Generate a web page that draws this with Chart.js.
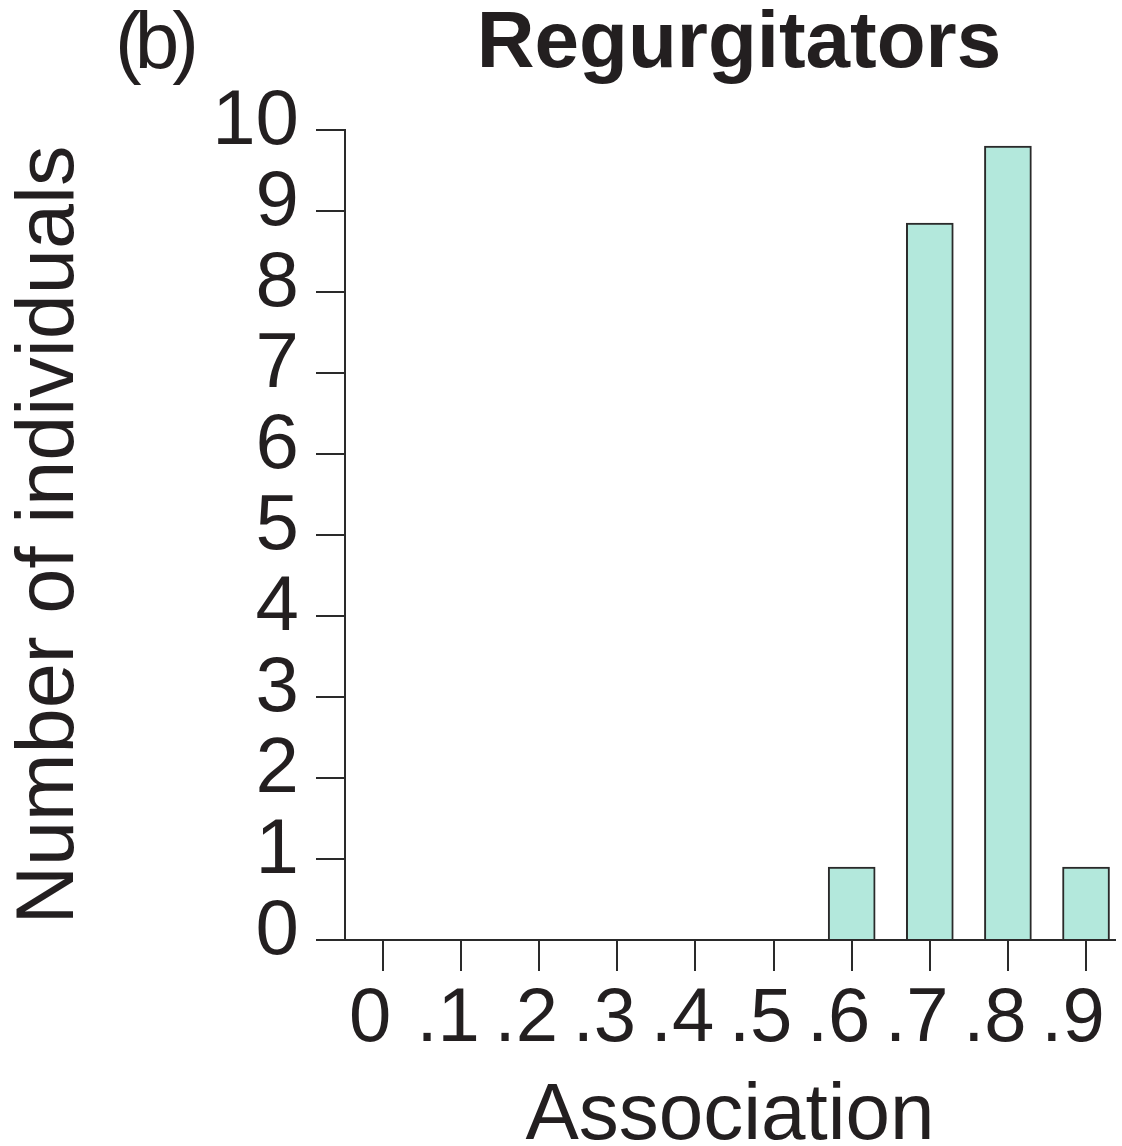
<!DOCTYPE html>
<html>
<head>
<meta charset="utf-8">
<script src="https://cdn.jsdelivr.net/npm/chart.js@4/dist/chart.umd.min.js"></script>
<style>
  html, body { margin: 0; padding: 0; background: #ffffff; }
  #wrap { width: 1122px; height: 1146px; }
</style>
</head>
<body>
<div id="wrap"><canvas id="c" width="1122" height="1146"></canvas></div>
<script>
// ---- data ----
const categories = [0, 0.1, 0.2, 0.3, 0.4, 0.5, 0.6, 0.7, 0.8, 0.9];
const tickLabels = ["0", ".1", ".2", ".3", ".4", ".5", ".6", ".7", ".8", ".9"];
const counts = [0, 0, 0, 0, 0, 0, 0.9, 8.85, 9.8, 0.9];
const yTickValues = [0, 1, 2, 3, 4, 5, 6, 7, 8, 9, 10];
const panelLabel = "(b)";
const chartTitle = "Regurgitators";
const xTitle = "Association";
const yTitle = "Number of individuals";

const FONT = '"Liberation Sans", Arial, Helvetica, sans-serif';
const TEXT = '#231f20';
const LINE = '#2a2a2a';

const headerPlugin = {
  id: 'header',
  afterDraw(chart) {
    const ctx = chart.ctx;
    ctx.save();
    ctx.fillStyle = TEXT;
    ctx.textBaseline = 'alphabetic';
    // panel label (tightly spaced in the reference)
    ctx.save();
    ctx.font = '80px ' + FONT;
    ctx.textAlign = 'left';
    if ('letterSpacing' in ctx) ctx.letterSpacing = '-7px';
    ctx.fillText(panelLabel, 115, 68);
    ctx.restore();
    ctx.font = 'bold 80px ' + FONT;
    ctx.textAlign = 'center';
    ctx.fillText(chartTitle, 739, 67);
    ctx.restore();
  }
};

new Chart(document.getElementById('c'), {
  type: 'bar',
  data: {
    datasets: [{
      data: categories.map((c, i) => ({ x: c, y: counts[i] })),
      backgroundColor: '#b3e8dc',
      borderColor: LINE,
      borderWidth: 2,
      borderSkipped: 'start',
      barThickness: 47
    }]
  },
  options: {
    responsive: false,
    animation: false,
    layout: { padding: { top: 130, left: 0, right: 7, bottom: 0 } },
    plugins: { legend: { display: false }, title: { display: false }, tooltip: { enabled: false } },
    scales: {
      x: {
        type: 'linear',
        min: -0.0487,
        max: 0.9371,
        offset: false,
        afterBuildTicks: (scale) => { scale.ticks = categories.map(v => ({ value: v })); },
        afterFit: (scale) => { scale.height = 206; scale.paddingLeft = 0; scale.paddingRight = 0; },
        ticks: {
          autoSkip: false,
          maxRotation: 0,
          minRotation: 0,
          padding: 3,
          labelOffset: -13,
          color: TEXT,
          font: { family: FONT, size: 76 },
          callback: (value, index) => tickLabels[index]
        },
        grid: { offset: false, drawOnChartArea: false, drawTicks: true, tickLength: 31, color: LINE, lineWidth: 2 },
        border: { display: true, color: LINE, width: 2 },
        title: {
          display: true, text: xTitle, color: TEXT,
          font: { family: FONT, size: 80, lineHeight: 0.8 },
          padding: { top: 0, bottom: -3 }
        }
      },
      y: {
        min: 0,
        max: 10,
        afterBuildTicks: (scale) => { scale.ticks = yTickValues.map(v => ({ value: v })); },
        afterFit: (scale) => { scale.width = 345; scale.paddingTop = 0; scale.paddingBottom = 0; },
        ticks: {
          autoSkip: false,
          padding: 17,
          labelOffset: -8,
          color: TEXT,
          font: { family: FONT, size: 78 },
          callback: (value) => String(value)
        },
        grid: { drawOnChartArea: false, drawTicks: true, tickLength: 29, color: LINE, lineWidth: 2 },
        border: { display: true, color: LINE, width: 2 },
        title: {
          display: true, text: yTitle, color: TEXT,
          font: { family: FONT, size: 81, lineHeight: 0.8 },
          padding: { top: 18, bottom: 0 }
        }
      }
    }
  },
  plugins: [headerPlugin]
});
</script>
</body>
</html>
